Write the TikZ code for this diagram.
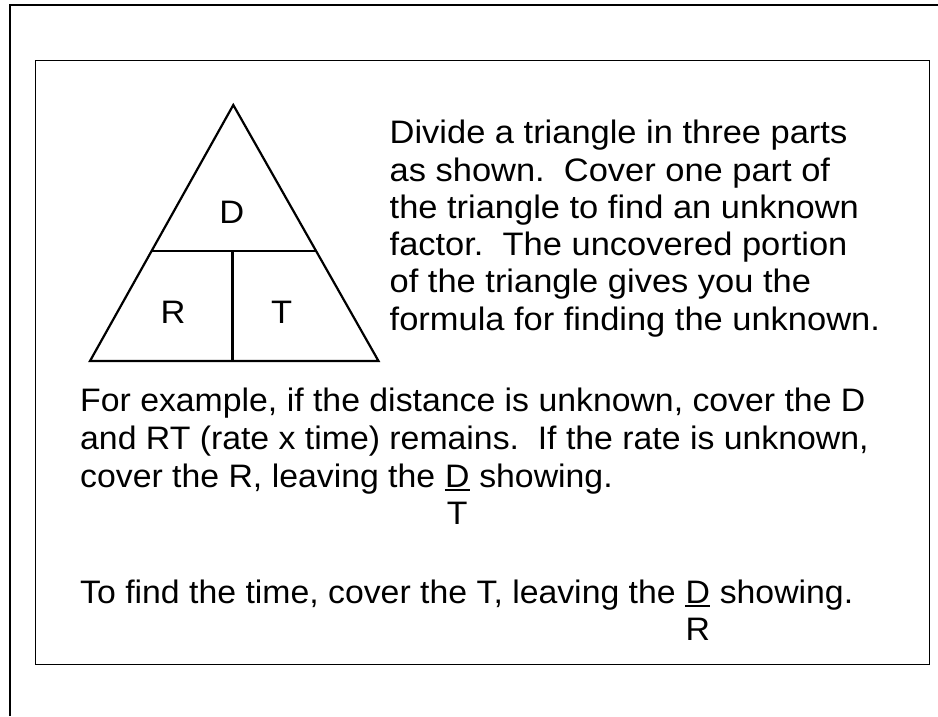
\documentclass[tikz,border=0pt]{standalone}
\usepackage{fontspec}
\setmainfont[FakeStretch=1.06]{Liberation Sans}
\newfontfamily\botfont[FakeStretch=1.04]{Liberation Sans}
\tikzset{
  txt/.style={anchor=base west, inner sep=0pt, font=\fontsize{32.5}{37.5}\selectfont},
  btxt/.style={anchor=base west, inner sep=0pt, font=\botfont\fontsize{32.5}{37.5}\selectfont},
  lbl/.style={inner sep=0pt, font=\fontsize{32.5}{37.5}\selectfont},
  blbl/.style={inner sep=0pt, font=\botfont\fontsize{32.5}{37.5}\selectfont},
  tri/.style={line width=2.2pt, line join=miter},
  frame/.style={line width=2pt},
  box/.style={line width=1pt},
  uline/.style={line width=1.8pt},
}
\begin{document}
\begin{tikzpicture}[x=1pt,y=-1pt]
\useasboundingbox (0,0) rectangle (938,716);
% outer frame (cropped)
\draw[frame] (10,716) -- (10,5) -- (938,5);
% inner box
\draw[box] (35.5,60.5) rectangle (929,664);
% triangle
\coordinate (A) at (233.3,105);
\coordinate (BL) at (90,361);
\coordinate (BR) at (378.5,361);
\coordinate (ML) at (151.7,250.7);
\coordinate (MR) at (315.8,250.7);
\coordinate (MM) at (232.5,250.7);
\coordinate (BM) at (232.5,361);
\draw[tri] (A) -- (BL) -- (BR) -- cycle;
\draw[tri] (ML) -- (MR);
\draw[tri] (MM) -- (BM);
\node[lbl] (lD) at (231.7,212.5) {D};
\node[lbl] (lR) at (173,312.5) {R};
\node[lbl] (lT) at (281.7,312.5) {T};
% right paragraph
\node[txt] (p1) at (389.5,143.5) {Divide a triangle in three parts};
\node[txt] (p2) at (389.5,181) {as shown.\ \ Cover one part of};
\node[txt] (p3) at (389.5,218.3) {the triangle to find an unknown};
\node[txt] (p4) at (389.5,255.6) {factor.\ \ The uncovered portion};
\node[txt] (p5) at (389.5,292.9) {of the triangle gives you the};
\node[txt] (p6) at (389.5,330.2) {formula for finding the unknown.};
% bottom paragraph
\node[btxt] (q1) at (80,411) {For example, if the distance is unknown, cover the D};
\node[btxt] (q2) at (80,449) {and RT (rate x time) remains.\ \ If the rate is unknown,};
\node[btxt] (q3a) at (80,487) {cover the R, leaving the\ \null};
\node[btxt] (qd) at (q3a.base east) {D};
\node[btxt] (q3b) at (qd.base east) {\ showing.};
\draw[uline] ([yshift=-3pt]qd.base west) -- ([yshift=-3pt]qd.base east);
\path (qd.base) ++(0,37) node[blbl, anchor=base] (qt) {T};
% last line
\node[btxt] (r1a) at (80,603) {To find the time, cover the T, leaving the\ \null};
\node[btxt] (rd) at (r1a.base east) {D};
\node[btxt] (r1b) at (rd.base east) {\ showing.};
\draw[uline] ([yshift=-3pt]rd.base west) -- ([yshift=-3pt]rd.base east);
\path (rd.base) ++(0,37) node[blbl, anchor=base] (rr) {R};
\end{tikzpicture}
\end{document}
